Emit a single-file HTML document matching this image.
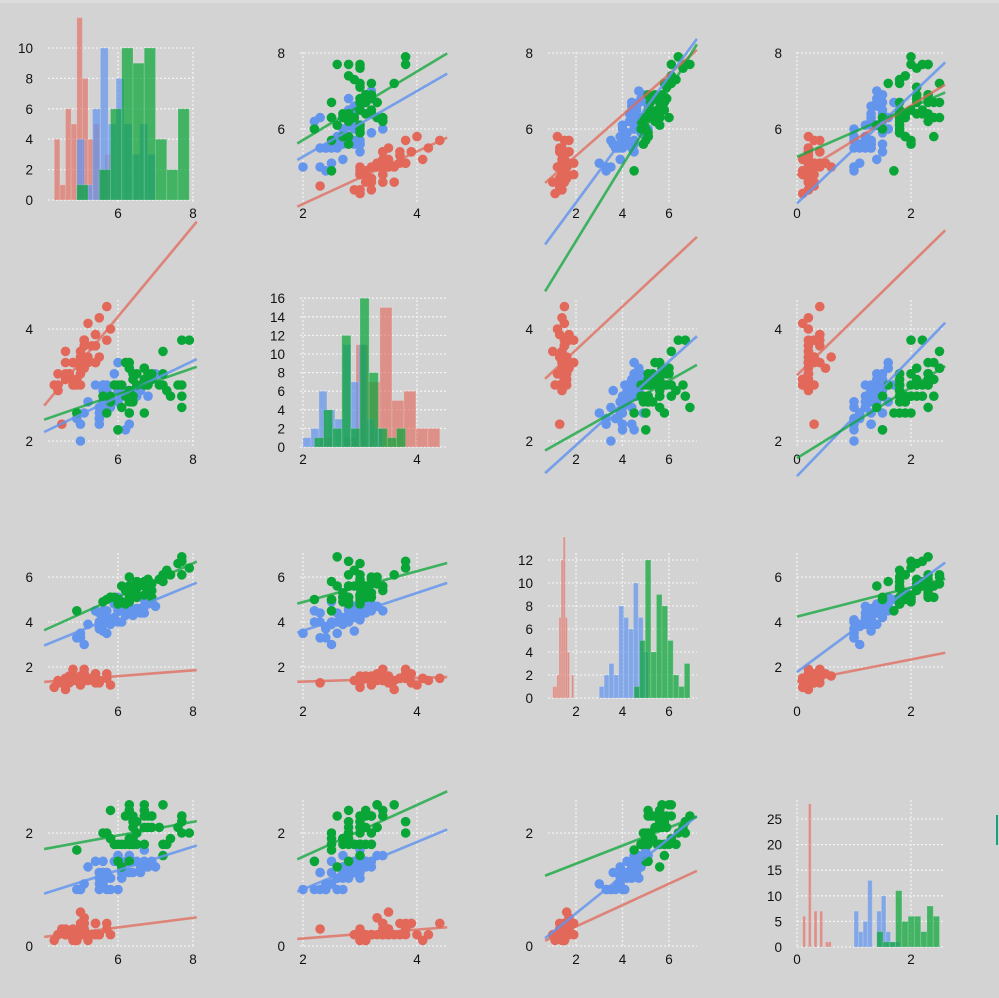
<!DOCTYPE html>
<html><head><meta charset="utf-8"><style>
html,body{margin:0;padding:0;background:#d3d3d3;}
svg{display:block}
text{font-family:"Liberation Sans",sans-serif;font-size:13.5px;fill:#111}
</style></head><body>
<svg id="s" width="999" height="998" xmlns="http://www.w3.org/2000/svg"></svg>
<script>
const raw=`5.1,3.5,1.4,0.2;4.9,3.0,1.4,0.2;4.7,3.2,1.3,0.2;4.6,3.1,1.5,0.2;5.0,3.6,1.4,0.2;5.4,3.9,1.7,0.4;4.6,3.4,1.4,0.3;5.0,3.4,1.5,0.2;4.4,2.9,1.4,0.2;4.9,3.1,1.5,0.1;5.4,3.7,1.5,0.2;4.8,3.4,1.6,0.2;4.8,3.0,1.4,0.1;4.3,3.0,1.1,0.1;5.8,4.0,1.2,0.2;5.7,4.4,1.5,0.4;5.4,3.9,1.3,0.4;5.1,3.5,1.4,0.3;5.7,3.8,1.7,0.3;5.1,3.8,1.5,0.3;5.4,3.4,1.7,0.2;5.1,3.7,1.5,0.4;4.6,3.6,1.0,0.2;5.1,3.3,1.7,0.5;4.8,3.4,1.9,0.2;5.0,3.0,1.6,0.2;5.0,3.4,1.6,0.4;5.2,3.5,1.5,0.2;5.2,3.4,1.4,0.2;4.7,3.2,1.6,0.2;4.8,3.1,1.6,0.2;5.4,3.4,1.5,0.4;5.2,4.1,1.5,0.1;5.5,4.2,1.4,0.2;4.9,3.1,1.5,0.1;5.0,3.2,1.2,0.2;5.5,3.5,1.3,0.2;4.9,3.1,1.5,0.1;4.4,3.0,1.3,0.2;5.1,3.4,1.5,0.2;5.0,3.5,1.3,0.3;4.5,2.3,1.3,0.3;4.4,3.2,1.3,0.2;5.0,3.5,1.6,0.6;5.1,3.8,1.9,0.4;4.8,3.0,1.4,0.3;5.1,3.8,1.6,0.2;4.6,3.2,1.4,0.2;5.3,3.7,1.5,0.2;5.0,3.3,1.4,0.2|7.0,3.2,4.7,1.4;6.4,3.2,4.5,1.5;6.9,3.1,4.9,1.5;5.5,2.3,4.0,1.3;6.5,2.8,4.6,1.5;5.7,2.8,4.5,1.3;6.3,3.3,4.7,1.6;4.9,2.4,3.3,1.0;6.6,2.9,4.6,1.3;5.2,2.7,3.9,1.4;5.0,2.0,3.5,1.0;5.9,3.0,4.2,1.5;6.0,2.2,4.0,1.0;6.1,2.9,4.7,1.4;5.6,2.9,3.6,1.3;6.7,3.1,4.4,1.4;5.6,3.0,4.5,1.5;5.8,2.7,4.1,1.0;6.2,2.2,4.5,1.5;5.6,2.5,3.9,1.1;5.9,3.2,4.8,1.8;6.1,2.8,4.0,1.3;6.3,2.5,4.9,1.5;6.1,2.8,4.7,1.2;6.4,2.9,4.3,1.3;6.6,3.0,4.4,1.4;6.8,2.8,4.8,1.4;6.7,3.0,5.0,1.7;6.0,2.9,4.5,1.5;5.7,2.6,3.5,1.0;5.5,2.4,3.8,1.1;5.5,2.4,3.7,1.0;5.8,2.7,3.9,1.2;6.0,2.7,5.1,1.6;5.4,3.0,4.5,1.5;6.0,3.4,4.5,1.6;6.7,3.1,4.7,1.5;6.3,2.3,4.4,1.3;5.6,3.0,4.1,1.3;5.5,2.5,4.0,1.3;5.5,2.6,4.4,1.2;6.1,3.0,4.6,1.4;5.8,2.6,4.0,1.2;5.0,2.3,3.3,1.0;5.6,2.7,4.2,1.3;5.7,3.0,4.2,1.2;5.7,2.9,4.2,1.3;6.2,2.9,4.3,1.3;5.1,2.5,3.0,1.1;5.7,2.8,4.1,1.3|6.3,3.3,6.0,2.5;5.8,2.7,5.1,1.9;7.1,3.0,5.9,2.1;6.3,2.9,5.6,1.8;6.5,3.0,5.8,2.2;7.6,3.0,6.6,2.1;4.9,2.5,4.5,1.7;7.3,2.9,6.3,1.8;6.7,2.5,5.8,1.8;7.2,3.6,6.1,2.5;6.5,3.2,5.1,2.0;6.4,2.7,5.3,1.9;6.8,3.0,5.5,2.1;5.7,2.5,5.0,2.0;5.8,2.8,5.1,2.4;6.4,3.2,5.3,2.3;6.5,3.0,5.5,1.8;7.7,3.8,6.7,2.2;7.7,2.6,6.9,2.3;6.0,2.2,5.0,1.5;6.9,3.2,5.7,2.3;5.6,2.8,4.9,2.0;7.7,2.8,6.7,2.0;6.3,2.7,4.9,1.8;6.7,3.3,5.7,2.1;7.2,3.2,6.0,1.8;6.2,2.8,4.8,1.8;6.1,3.0,4.9,1.8;6.4,2.8,5.6,2.1;7.2,3.0,5.8,1.6;7.4,2.8,6.1,1.9;7.9,3.8,6.4,2.0;6.4,2.8,5.6,2.2;6.3,2.8,5.1,1.5;6.1,2.6,5.6,1.4;7.7,3.0,6.1,2.3;6.3,3.4,5.6,2.4;6.4,3.1,5.5,1.8;6.0,3.0,4.8,1.8;6.9,3.1,5.4,2.1;6.7,3.1,5.6,2.4;6.9,3.1,5.1,2.3;5.8,2.7,5.1,1.9;6.8,3.2,5.9,2.3;6.7,3.3,5.7,2.5;6.7,3.0,5.2,2.3;6.3,2.5,5.0,1.9;6.5,3.0,5.2,2.0;6.2,3.4,5.4,2.3;5.9,3.0,5.1,1.8`;
const D=raw.split('|').map(g=>g.split(';').map(r=>r.split(',').map(Number)));
const PC=['#e2685a','#6495ed','#0aa537'];
const HC=['rgba(226,104,90,0.62)','rgba(100,149,237,0.72)','rgba(10,165,55,0.72)'];
const LC=['rgba(226,104,90,0.75)','rgba(100,149,237,0.85)','rgba(10,165,55,0.75)'];
const XM=[[118,6,37.5],[303,2,57],[576,2,23.25],[797,0,57]];
const YM=[[129,6,38],[441,2,56],[667,2,22.5],[946,0,56.5]];
const XT=[[6,8],[2,4],[2,4,6],[0,2]];
const XR=[[4.03,8.1],[1.9,4.53],[0.67,7.2],[0,2.6]];
const BX=[[48,195],[300,447],[548,697],[797,945]];
const BY=[[52,202],[300,448],[553,700],[800,948]];
const HY=[[200,15.2,[0,2,4,6,8,10]],[447,9.3,[0,2,4,6,8,10,12,14,16]],[698,11.5,[0,2,4,6,8,10,12]],[947,5.12,[0,5,10,15,20,25]]];
const YT=[[6,8],[2,4],[2,4,6],[0,2]];
let o='<rect x="0" y="0" width="999" height="3" fill="#dcdcdc"/><rect x="996" y="815" width="2" height="30" fill="#1aa080"/>';
const fx=(c,v)=>XM[c][0]+(v-XM[c][1])*XM[c][2];
const fy=(r,v)=>YM[r][0]-(v-YM[r][1])*YM[r][2];
const G='stroke="#f2f2f2" stroke-width="1.3" stroke-dasharray="2,2"';
for(let r=0;r<4;r++)for(let c=0;c<4;c++){
  const [x0,x1]=BX[c],[y0,y1]=BY[r];
  for(const t of XT[c]){const px=fx(c,t);o+=`<line x1="${px}" y1="${y0}" x2="${px}" y2="${y1}" ${G}/>`;o+=`<text x="${px}" y="${y1+16}" text-anchor="middle">${t}</text>`;}
  if(r==c){
    const [b,k,ts]=HY[r];
    for(const t of ts){const py=b-t*k;o+=`<line x1="${x0}" y1="${py}" x2="${x1}" y2="${py}" ${G}/>`;o+=`<text x="${x0-15}" y="${py+5}" text-anchor="end">${t}</text>`;}
    for(let s=0;s<3;s++){
      const v=D[s].map(d=>Math.round(d[c]*10));const mn=Math.min(...v),mx=Math.max(...v);const w=(mx-mn)/10;
      const cnt=new Array(10).fill(0);v.forEach(x=>{let i=Math.floor((x-mn)/w+1e-6);if(i>9)i=9;cnt[i]++;});
      for(let i=0;i<10;i++){if(!cnt[i])continue;const a=fx(c,(mn+i*w)/10),bb=fx(c,(mn+(i+1)*w)/10);
        o+=`<rect x="${a}" y="${b-cnt[i]*k}" width="${bb-a}" height="${cnt[i]*k}" fill="${HC[s]}" stroke="rgba(255,255,255,0.15)" stroke-width="1"/>`;}
    }
  } else {
    for(const t of YT[r]){const py=fy(r,t);o+=`<line x1="${x0}" y1="${py}" x2="${x1}" y2="${py}" ${G}/>`;o+=`<text x="${x0-15}" y="${py+5}" text-anchor="end">${t}</text>`;}
    for(let s=0;s<3;s++){
      for(const d of D[s])o+=`<circle cx="${fx(c,d[c]).toFixed(1)}" cy="${fy(r,d[r]).toFixed(1)}" r="4.8" fill="${PC[s]}"/>`;
    }
    for(let s=0;s<3;s++){
      const xs=D[s].map(d=>d[c]),ys=D[s].map(d=>d[r]);const n=xs.length;
      const mx=xs.reduce((a,b)=>a+b)/n,my=ys.reduce((a,b)=>a+b)/n;
      let sxy=0,sxx=0;for(let i=0;i<n;i++){sxy+=(xs[i]-mx)*(ys[i]-my);sxx+=(xs[i]-mx)**2;}
      const m=sxy/sxx,bq=my-m*mx;const [a,e]=XR[c];
      o+=`<line x1="${fx(c,a)}" y1="${fy(r,m*a+bq)}" x2="${fx(c,e)}" y2="${fy(r,m*e+bq)}" stroke="${LC[s]}" stroke-width="2.6"/>`;
    }
  }
}
document.getElementById('s').innerHTML=o;
</script>
</body></html>
